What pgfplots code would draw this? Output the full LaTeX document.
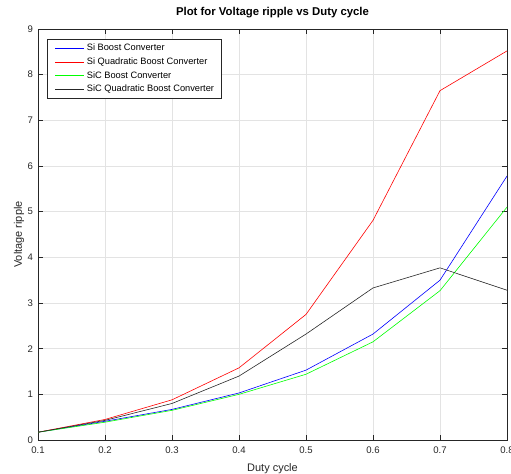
\documentclass[border=0pt]{standalone}
\usepackage{pgfplots}
\pgfplotsset{compat=1.18}
\usepackage{fontspec}
\setmainfont{Liberation Sans}
\definecolor{axgray}{gray}{0.15}
\begin{document}
\begin{tikzpicture}
\begin{axis}[
  scale only axis,
  width=469bp, height=411bp,
  xmin=0.1, xmax=0.8, ymin=0, ymax=9,
  xtick={0.1,0.2,0.3,0.4,0.5,0.6,0.7,0.8},
  ytick={0,1,2,3,4,5,6,7,8,9},
  xticklabel style={/pgf/number format/fixed, /pgf/number format/precision=1, yshift=-3.5bp},
  yticklabel style={xshift=-1.5bp},
  /pgf/number format/assume math mode=true,
  tick label style={font=\fontsize{9.6}{11}\selectfont, text=axgray},
  tick align=inside,
  major tick length=5bp,
  axis line style={axgray, line width=0.5pt},
  tick style={axgray, line width=0.5pt},
  grid=major,
  grid style={gray!22, line width=0.4pt},
  title={\textbf{Plot for Voltage ripple vs Duty cycle}},
  title style={font=\fontsize{11.4}{13}\selectfont, at={(axis description cs:0.5,1)}, anchor=south, yshift=2bp},
  xlabel={Duty cycle},
  ylabel={Voltage ripple},
  label style={font=\fontsize{11}{12}\selectfont, text=axgray},
  xlabel style={at={(axis description cs:0.5,0)}, anchor=north, yshift=-19.7bp},
  ylabel style={at={(axis description cs:-0.0405,0.5)}, anchor=center, rotate=0},
  legend style={at={(axis description cs:0,1)}, anchor=north west, xshift=9bp, yshift=-10bp,
    font=\fontsize{9.3}{11}\selectfont, draw=axgray, line width=0.5pt,
    inner xsep=7.5bp, inner ysep=4.5bp, row sep=4.7bp,
    nodes={inner xsep=0pt, inner ysep=0pt, text height=7bp, text depth=2bp}},
  legend cell align=left,
  legend image code/.code={\draw[#1] (0bp,0bp) -- (29bp,0bp); \path (31.5bp,0bp);},
  every axis plot/.append style={line width=0.6pt},
]
\addplot[blue, mark=none] coordinates {(0.1,0.17) (0.2,0.41) (0.3,0.67) (0.4,1.03) (0.5,1.53) (0.6,2.32) (0.7,3.50) (0.8,5.78)};
\addlegendentry{Si Boost Converter}
\addplot[red, mark=none] coordinates {(0.1,0.17) (0.2,0.45) (0.3,0.88) (0.4,1.58) (0.5,2.75) (0.6,4.81) (0.7,7.65) (0.8,8.52)};
\addlegendentry{Si Quadratic Boost Converter}
\addplot[green, mark=none] coordinates {(0.1,0.17) (0.2,0.39) (0.3,0.65) (0.4,1.00) (0.5,1.44) (0.6,2.15) (0.7,3.27) (0.8,5.10)};
\addlegendentry{SiC Boost Converter}
\addplot[black!85, mark=none] coordinates {(0.1,0.17) (0.2,0.43) (0.3,0.80) (0.4,1.40) (0.5,2.32) (0.6,3.33) (0.7,3.77) (0.8,3.28)};
\addlegendentry{SiC Quadratic Boost Converter}
\end{axis}
\pgfresetboundingbox
\path[use as bounding box] ([xshift=-38bp,yshift=-33bp]current axis.south west) rectangle ([xshift=4bp,yshift=29bp]current axis.north east);
\end{tikzpicture}
\end{document}
